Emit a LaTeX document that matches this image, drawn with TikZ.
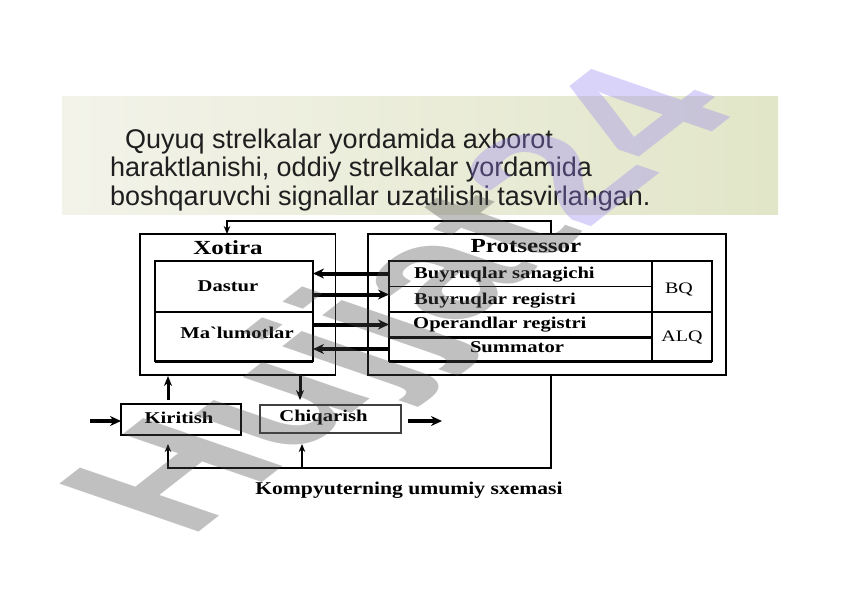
\documentclass[tikz,border=0pt]{standalone}
\usepackage{fontspec}
\usepackage{graphicx}
\setmainfont{Liberation Serif}
\newfontfamily\hdrfont{Liberation Sans}
\newfontfamily\wmfont{Liberation Sans}
\usetikzlibrary{arrows.meta,calc}
\definecolor{bandL}{HTML}{F3F3EA}
\definecolor{bandR}{HTML}{E2E6C8}
\definecolor{wmgray}{RGB}{75,75,75}
\definecolor{wmlav}{RGB}{150,130,240}
\newcommand\hs[1]{\scalebox{1.25}[1]{#1}}
\begin{document}
\begin{tikzpicture}[x=1pt,y=-1pt,
  box/.style={draw, line width=1.3pt, inner sep=0pt, outer sep=0pt},
  cell/.style={inner sep=0pt, outer sep=0pt},
  lbl/.style={inner sep=0pt, font=\bfseries\fontsize{16.5}{18}\selectfont},
  ttl/.style={inner sep=0pt, font=\bfseries\fontsize{20}{22}\selectfont},
  rlbl/.style={inner sep=0pt, font=\fontsize{16}{18}\selectfont},
  capt/.style={inner sep=0pt, font=\bfseries\fontsize{18}{20}\selectfont},
  hdr/.style={inner sep=0pt, anchor=base west, text=black!88, font=\hdrfont\fontsize{27}{30}\selectfont},
  data/.style={line width=4pt, -{Stealth[length=11pt,width=10pt]}},
  vdata/.style={line width=3pt, -{Stealth[length=10pt,width=8pt]}},
  ctrl/.style={line width=1.4pt, -{Stealth[length=8pt,width=6.5pt]}},
]
\useasboundingbox (0,0) rectangle (841,595);
\fill[white] (0,0) rectangle (841,595);

% header band
\shade[left color=bandL, right color=bandR] (62,96) rectangle (778,214);
\node[hdr] (h1) at (125,148) {Quyuq strelkalar yordamida axborot};
\node[hdr] (h2) at (110,176.5) {haraktlanishi, oddiy strelkalar yordamida};
\node[hdr] (h3) at (110,205) {boshqaruvchi signallar uzatilishi tasvirlangan.};

% outer boxes
\node[box, minimum width=195.7pt, minimum height=141pt] (xotira) at (237.85,304.5) {};
\node[box, minimum width=358pt, minimum height=141pt] (prots) at (547,304.5) {};
\node[box, line width=1.8pt, minimum width=120pt, minimum height=31pt] (kir) at (181,419.5) {};
\node[box, line width=1.1pt, draw=black!75, minimum width=141pt, minimum height=28pt] (chiq) at (330.5,419) {};

% Xotira cells
\node[cell, minimum width=158pt, minimum height=51pt] (xd) at (234,286.5) {};
\node[cell, minimum width=158pt, minimum height=49pt] (xm) at (234,336.5) {};
\draw[line width=1.5pt] (xd.north west) rectangle (xm.south east);
\draw[line width=2pt] (xd.south west) -- (xd.south east);
\draw[line width=3pt] (xm.south west) -- (xm.south east);

% Protsessor cells
\node[cell, minimum width=263pt, minimum height=25pt] (r1) at (520.5,273.5) {};
\node[cell, minimum width=263pt, minimum height=26pt] (r2) at (520.5,299) {};
\node[cell, minimum width=263pt, minimum height=25pt] (r3) at (520.5,324.5) {};
\node[cell, minimum width=263pt, minimum height=24pt] (r4) at (520.5,349) {};
\node[cell, minimum width=60pt, minimum height=51pt] (bq) at (682,286.5) {};
\node[cell, minimum width=60pt, minimum height=49pt] (alq) at (682,336.5) {};
\draw[line width=2pt] (r1.north west) rectangle (alq.south east);
\draw[line width=1pt] (r1.south west) -- (r1.south east);
\draw[line width=2pt] (r2.south west) -- (bq.south east);
\draw[line width=3pt] (r3.south west) -- (r3.south east);
\draw[line width=1.6pt] (r1.north east) -- (r4.south east);
\draw[line width=3pt] (r4.south west) -- (alq.south east);

% labels
\node[ttl, anchor=base] (xt) at (228,254) {\hs{Xotira}};
\node[ttl, anchor=base] (pt) at (526,252) {\hs{Protsessor}};
\node[lbl, anchor=base] (tdast) at (228,291) {\hs{Dastur}};
\node[lbl, anchor=base] (tmal) at (237,338) {\hs{Ma\textasciigrave lumotlar}};
\node[lbl, anchor=base west] (tb1) at (414,278.3) {\hs{Buyruqlar sanagichi}};
\node[lbl, anchor=base west] (tb2) at (414,304.3) {\hs{Buyruqlar registri}};
\node[lbl, anchor=base west] (tb3) at (413,328.3) {\hs{Operandlar registri}};
\node[lbl, anchor=base] (tb4) at (517,352.7) {\hs{Summator}};
\node[rlbl, anchor=base] (tbq) at (679,293.3) {\hs{BQ}};
\node[rlbl, anchor=base] (talq) at (682,341.7) {\hs{ALQ}};
\node[lbl, anchor=base] (tkir) at (179,423.3) {\hs{Kiritish}};
\node[lbl, anchor=base] (tchiq) at (323.5,421.7) {\hs{Chiqarish}};
\node[capt, anchor=base] (cap) at (409,494) {\scalebox{1.2}[1]{Kompyuterning umumiy sxemasi}};

% data arrows between memory and processor
\coordinate (a2) at ([yshift=4.5pt]r2.west);
\draw[data] (r1.west) -- (xd.east |- r1.west);
\draw[data] (xd.east |- a2) -- (a2);
\draw[data] (xm.east |- r3.west) -- (r3.west);
\draw[data] (r4.west) -- (xm.east |- r4.west);

% control lines
\coordinate (ct1) at (551,221);
\coordinate (ct2) at (227,221);
\draw[ctrl] (prots.north -| ct1) -- (ct1) -- (ct2) -- (xotira.north -| ct2);
\coordinate (cb1) at (551,468);
\coordinate (cb2) at (168,468);
\coordinate (cb3) at (302,468);
\draw[ctrl, shorten >=9pt] (prots.south -| cb1) -- (cb1) -- (cb2) -- (kir.south -| cb2);
\draw[ctrl, shorten >=11pt] (cb3) -- (chiq.south -| cb3);

% input / output
\coordinate (v1) at (168,0);
\coordinate (v2) at (300,0);
\draw[vdata, shorten <=4pt, shorten >=1pt] (kir.north -| v1) -- (xotira.south -| v1);
\draw[vdata, shorten >=5pt] (xotira.south -| v2) -- (chiq.north -| v2);
\coordinate (in0) at (90,421);
\coordinate (out0) at (442,421);
\draw[data] (in0) -- (kir.west |- in0);
\draw[data, shorten <=7pt] (chiq.east |- out0) -- (out0);

% watermark
\begin{scope}[shift={(189.6,540.1)}]
\node[cm={1.426,1.115,-2.023,0.697,(0,0)}, transform shape, anchor=base west, inner sep=0pt, opacity=0.35, font=\wmfont\bfseries\fontsize{100}{100}\selectfont] (wm) at (0,0) {\textcolor{wmgray}{Hujjat}\textcolor{wmlav}{24}};
\end{scope}
\end{tikzpicture}
\end{document}
